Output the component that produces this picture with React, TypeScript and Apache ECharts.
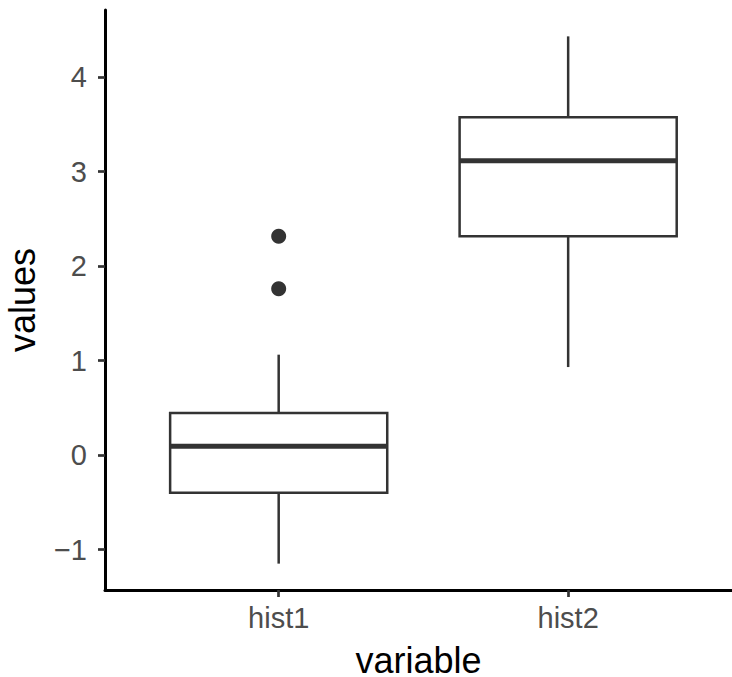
import React, { useEffect, useRef } from "react";
import * as echarts from "echarts";

const categories = ["hist1", "hist2"];
const whiskerLow = [-1.149, 0.931];
const q1 = [-0.398, 2.314];
const medians = [0.092, 3.115];
const q3 = [0.444, 3.573];
const whiskerHigh = [1.062, 4.43];
const outliers: [string, number][] = [
  ["hist1", 2.314],
  ["hist1", 1.76],
];
const yTicks = [-1, 0, 1, 2, 3, 4];

const FONT = "'Liberation Sans', Arial, Helvetica, sans-serif";

export default function App() {
  const ref = useRef<HTMLDivElement>(null);
  useEffect(() => {
    if (!ref.current) return;
    const chart = echarts.init(ref.current, undefined, { renderer: "svg" });
    const boxData = categories.map((c, i) => [
      i + 1,
      whiskerLow[i],
      q1[i],
      medians[i],
      q3[i],
      whiskerHigh[i],
    ]);
    const outlierData = outliers.map(([c, v]) => [categories.indexOf(c) + 1, v]);
    chart.setOption({
      animation: false,
      backgroundColor: "#ffffff",
      grid: { left: 105, right: 0, top: 10, bottom: 87, outerBoundsMode: "none", containLabel: false },
      xAxis: {
        type: "value",
        min: 0.4,
        max: 2.566,
        name: "variable",
        nameLocation: "middle",
        nameGap: 55,
        nameTextStyle: { color: "#000", fontSize: 36, lineHeight: 30, fontFamily: FONT },
        splitLine: { show: false },
        axisLine: { show: true, onZero: false, lineStyle: { color: "#000", width: 3 } },
        axisTick: {
          show: true,
          length: 7,
          customValues: [1, 2],
          lineStyle: { color: "#333", width: 2.7 },
        },
        axisLabel: {
          show: true,
          customValues: [1, 2],
          margin: 13,
          color: "#4D4D4D",
          fontSize: 29,
          fontFamily: FONT,
          formatter: (v: number) => categories[Math.round(v) - 1] ?? "",
        },
      },
      yAxis: {
        type: "value",
        min: -1.428,
        max: 4.709,
        name: "values",
        nameLocation: "middle",
        nameGap: 65,
        nameRotate: 90,
        nameTextStyle: { color: "#000", fontSize: 36, fontFamily: FONT },
        splitLine: { show: false },
        axisLine: { show: true, onZero: false, lineStyle: { color: "#000", width: 3 } },
        axisTick: {
          show: true,
          length: 7,
          customValues: yTicks,
          lineStyle: { color: "#333", width: 2.7 },
        },
        axisLabel: {
          show: true,
          customValues: yTicks,
          margin: 18,
          color: "#4D4D4D",
          fontSize: 29,
          fontFamily: FONT,
          formatter: (v: number) => (v < 0 ? "\u2212" + Math.abs(v) : String(v)),
        },
      },
      series: [
        {
          type: "custom",
          data: boxData,
          encode: { x: 0, y: [1, 2, 3, 4, 5] },
          renderItem: (params: any, api: any) => {
            const x = api.value(0);
            const pMin = api.coord([x, api.value(1)]);
            const pQ1 = api.coord([x, api.value(2)]);
            const pMed = api.coord([x, api.value(3)]);
            const pQ3 = api.coord([x, api.value(4)]);
            const pMax = api.coord([x, api.value(5)]);
            const w = api.size([0.75, 0])[0];
            const cx = pMed[0];
            const stroke = "#333333";
            return {
              type: "group",
              children: [
                {
                  type: "line",
                  shape: { x1: cx, y1: pMin[1], x2: cx, y2: pQ1[1] },
                  style: { stroke, lineWidth: 2.5 },
                },
                {
                  type: "line",
                  shape: { x1: cx, y1: pQ3[1], x2: cx, y2: pMax[1] },
                  style: { stroke, lineWidth: 2.5 },
                },
                {
                  type: "rect",
                  shape: { x: cx - w / 2, y: pQ3[1], width: w, height: pQ1[1] - pQ3[1] },
                  style: { fill: "#ffffff", stroke, lineWidth: 2.5 },
                },
                {
                  type: "line",
                  shape: { x1: cx - w / 2, y1: pMed[1], x2: cx + w / 2, y2: pMed[1] },
                  style: { stroke, lineWidth: 5 },
                },
              ],
            };
          },
        },
        {
          type: "scatter",
          data: outlierData,
          symbol: "circle",
          symbolSize: 15,
          itemStyle: { color: "#333333", opacity: 1 },
        },
      ],
    });
    return () => chart.dispose();
  }, []);
  return (
    <div
      ref={ref}
      style={{ position: "fixed", left: 0, top: 0, width: 732, height: 677 }}
    />
  );
}
